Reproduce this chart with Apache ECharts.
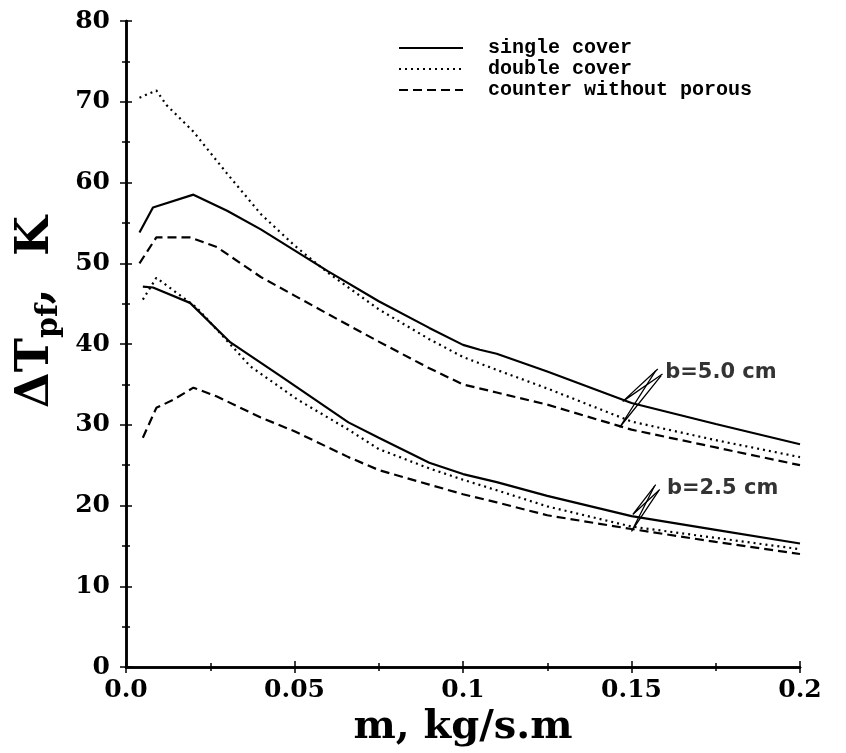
<!DOCTYPE html>
<html>
<head>
<meta charset="utf-8">
<script src="https://cdn.jsdelivr.net/npm/echarts@6/dist/echarts.min.js"></script>
<style>
html, body { margin: 0; padding: 0; background: #fff; }
#chart { width: 846px; height: 753px; }
</style>
</head>
<body>
<div id="chart"></div>
<script>
// Plate-to-fluid temperature rise versus mass flow rate, for two channel depths b.
const seriesNames = ['single cover', 'double cover', 'counter without porous'];

// b = 5.0 cm
const singleB5M = [0.004, 0.008, 0.020, 0.030, 0.040, 0.050, 0.060, 0.075, 0.090, 0.100, 0.105, 0.110, 0.125, 0.150, 0.175, 0.200];
const singleB5T = [53.8, 56.9, 58.5, 56.5, 54.2, 51.6, 49.0, 45.3, 42.0, 39.9, 39.3, 38.8, 36.6, 32.7, 30.1, 27.6];
const doubleB5M = [0.004, 0.009, 0.012, 0.020, 0.030, 0.040, 0.050, 0.060, 0.075, 0.090, 0.100, 0.110, 0.125, 0.150, 0.175, 0.200];
const doubleB5T = [70.5, 71.4, 69.6, 66.3, 61.1, 56.1, 52.2, 48.8, 44.3, 40.6, 38.4, 36.8, 34.5, 30.4, 28.1, 26.0];
const counterB5M = [0.004, 0.009, 0.019, 0.027, 0.040, 0.050, 0.060, 0.075, 0.090, 0.100, 0.110, 0.125, 0.150, 0.175, 0.200];
const counterB5T = [50.0, 53.2, 53.2, 52.0, 48.3, 46.0, 43.7, 40.3, 37.0, 35.0, 34.0, 32.5, 29.4, 27.2, 25.0];

// b = 2.5 cm
const singleB25M = [0.005, 0.008, 0.019, 0.031, 0.046, 0.066, 0.075, 0.090, 0.100, 0.110, 0.125, 0.150, 0.175, 0.200];
const singleB25T = [47.1, 47.0, 45.1, 40.2, 36.0, 30.3, 28.4, 25.3, 23.9, 22.9, 21.2, 18.7, 17.0, 15.3];
const doubleB25M = [0.005, 0.009, 0.021, 0.037, 0.051, 0.066, 0.075, 0.090, 0.100, 0.110, 0.125, 0.150, 0.175, 0.200];
const doubleB25T = [45.5, 48.2, 44.5, 37.2, 33.1, 29.4, 27.0, 24.6, 23.2, 21.9, 19.9, 17.4, 16.0, 14.6];
const counterB25M = [0.005, 0.009, 0.014, 0.020, 0.027, 0.040, 0.050, 0.066, 0.075, 0.090, 0.100, 0.110, 0.125, 0.150, 0.175, 0.200];
const counterB25T = [28.4, 32.1, 33.1, 34.6, 33.5, 30.9, 29.2, 26.0, 24.4, 22.6, 21.4, 20.4, 18.8, 17.1, 15.5, 14.0];

// Axis ticks
const xTicks = [0, 0.05, 0.1, 0.15, 0.2];
const xTickLabels = ['0.0', '0.05', '0.1', '0.15', '0.2'];
const yTicks = [0, 10, 20, 30, 40, 50, 60, 70, 80];

// Curve group labels and their pointer wedges (data coordinates)
const groupLabels = [
  { text: 'b=5.0 cm', at: [0.1600, 36.5] },
  { text: 'b=2.5 cm', at: [0.1605, 22.1] }
];
const pointerB5Solid = [[0.1578, 36.9], [0.1474, 32.9], [0.1592, 36.3]];
const pointerB5Dashed = [[0.1572, 36.7], [0.1465, 29.7], [0.1588, 36.1]];
const pointerB25Solid = [[0.1572, 22.6], [0.1504, 18.9], [0.1584, 22.0]];
const pointerB25Dashed = [[0.1568, 22.4], [0.1500, 16.8], [0.1580, 21.8]];

const zip = (m, t) => m.map((v, i) => [v, t[i]]);

const styleByName = {
  'single cover': { type: 'solid', width: 2.2 },
  'double cover': { type: [2, 4], width: 2.2 },
  'counter without porous': { type: [9, 5], width: 2.2 }
};

function curve(name, m, t) {
  const s = styleByName[name];
  return {
    type: 'line',
    name: name,
    data: zip(m, t),
    symbol: 'none',
    smooth: false,
    lineStyle: { color: '#000', width: s.width, type: s.type },
    itemStyle: { color: '#000' },
    z: 3
  };
}

function pointer(points) {
  return {
    type: 'line',
    data: points,
    symbol: 'none',
    silent: true,
    lineStyle: { color: '#000', width: 1.3 },
    z: 4
  };
}

const tickFont = { fontFamily: 'DejaVu Serif', fontWeight: 'bold', fontSize: 25, color: '#000' };

const frameAxis = {
  axisLine: { lineStyle: { color: '#000', width: 2.5 } },
  axisTick: { inside: true, length: 6, lineStyle: { color: '#000', width: 1.5 } },
  minorTick: { show: true, splitNumber: 2, length: 4, lineStyle: { color: '#000', width: 1.5 } },
  splitLine: { show: false }
};

const chart = echarts.init(document.getElementById('chart'), null, { renderer: 'canvas' });

chart.setOption({
  backgroundColor: '#fff',
  animation: false,
  grid: { left: 126, right: 46, top: 21, bottom: 85, containLabel: false },
  legend: {
    orient: 'vertical',
    left: 398,
    top: 38,
    padding: 0,
    itemWidth: 64,
    itemHeight: 14,
    itemGap: 1,
    data: seriesNames,
    selectedMode: false,
    itemStyle: { color: 'rgba(0,0,0,0)', borderWidth: 0, opacity: 0 },
    textStyle: {
      fontFamily: 'Liberation Mono',
      fontWeight: 'bold',
      fontSize: 20,
      color: '#000',
      padding: [0, 0, 0, 20]
    }
  },
  xAxis: [
    Object.assign({
      type: 'value',
      min: 0,
      max: 0.2,
      interval: 0.05,
      position: 'bottom',
      name: 'm, kg/s.m',
      nameLocation: 'middle',
      nameGap: 38,
      nameTextStyle: { fontFamily: 'DejaVu Serif', fontWeight: 'bold', fontSize: 40, color: '#000' },
      axisLabel: Object.assign({}, tickFont, {
        margin: 11,
        formatter: v => {
          const i = xTicks.findIndex(t => Math.abs(t - v) < 1e-9);
          return i >= 0 ? xTickLabels[i] : '';
        }
      })
    }, frameAxis),
    Object.assign({
      type: 'value',
      min: 0,
      max: 0.2,
      interval: 0.05,
      position: 'top',
      axisLabel: { show: false }
    }, frameAxis)
  ],
  yAxis: [
    Object.assign({
      type: 'value',
      min: yTicks[0],
      max: yTicks[yTicks.length - 1],
      interval: 10,
      position: 'left',
      name: '{d|ΔT}{s|pf}{d|,  K}',
      nameLocation: 'middle',
      nameRotate: 90,
      nameGap: 62,
      nameTextStyle: {
        color: '#000',
        padding: [0, 0, 0, 64],
        rich: {
          d: { fontFamily: 'DejaVu Serif', fontWeight: 'bold', fontSize: 46, lineHeight: 56, color: '#000' },
          s: { fontFamily: 'DejaVu Serif', fontWeight: 'bold', fontSize: 30, lineHeight: 30, verticalAlign: 'bottom', color: '#000' }
        }
      },
      axisLabel: Object.assign({}, tickFont, { margin: 16 })
    }, frameAxis),
    Object.assign({
      type: 'value',
      min: yTicks[0],
      max: yTicks[yTicks.length - 1],
      interval: 10,
      position: 'right',
      axisLabel: { show: false }
    }, frameAxis)
  ],
  series: [
    curve('single cover', singleB5M, singleB5T),
    curve('double cover', doubleB5M, doubleB5T),
    curve('counter without porous', counterB5M, counterB5T),
    curve('single cover', singleB25M, singleB25T),
    curve('double cover', doubleB25M, doubleB25T),
    curve('counter without porous', counterB25M, counterB25T),
    pointer(pointerB5Solid),
    pointer(pointerB5Dashed),
    pointer(pointerB25Solid),
    pointer(pointerB25Dashed),
    {
      type: 'scatter',
      symbolSize: 0,
      silent: true,
      data: groupLabels.map(g => ({ value: g.at, name: g.text })),
      label: {
        show: true,
        position: 'right',
        distance: 0,
        formatter: p => p.name,
        fontFamily: 'DejaVu Sans',
        fontWeight: 'bold',
        fontSize: 21,
        color: '#000'
      },
      z: 5
    }
  ]
});
</script>
</body>
</html>
